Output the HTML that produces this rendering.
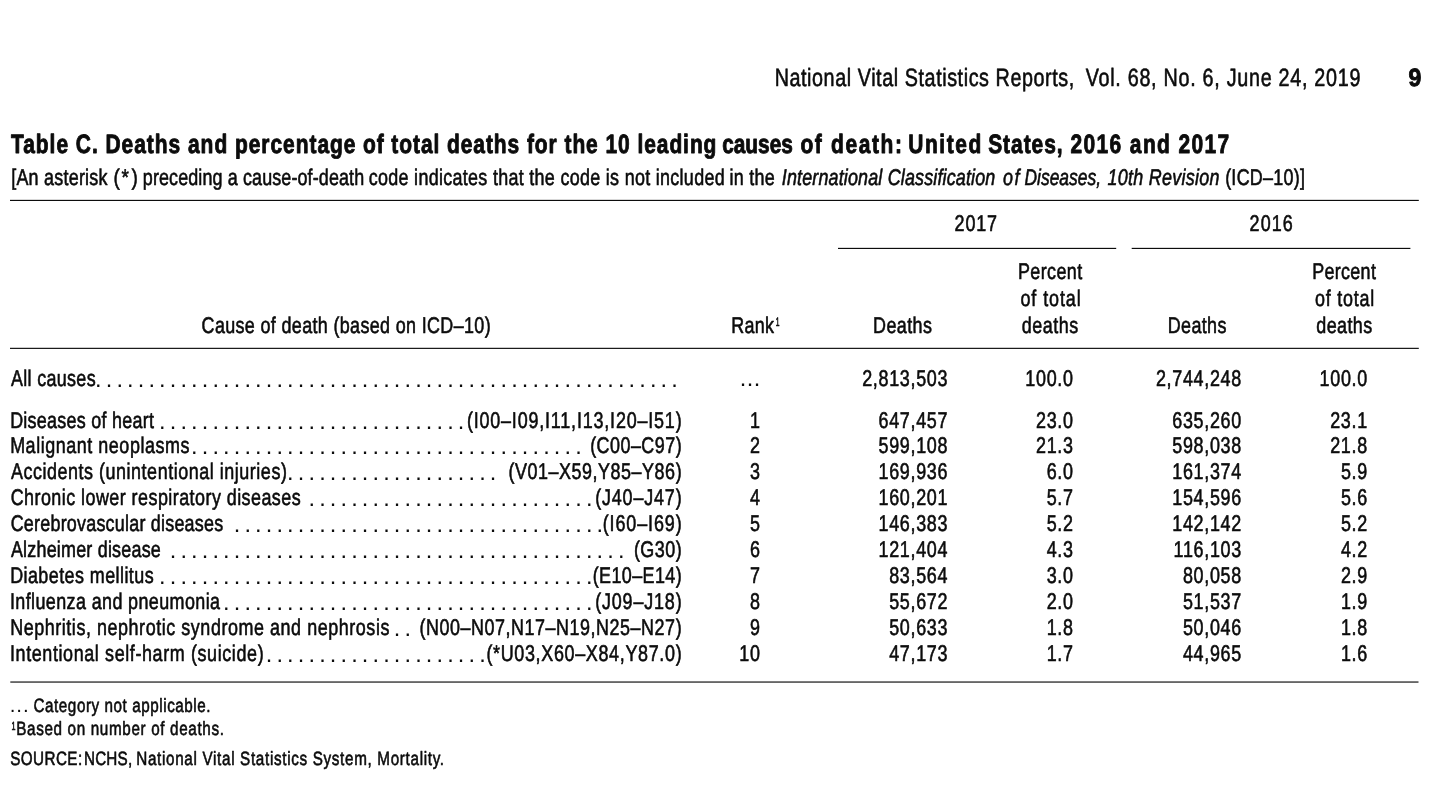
<!DOCTYPE html>
<html lang="en"><head><meta charset="utf-8"><title>Table C. Deaths and percentage of total deaths for the 10 leading causes of death</title>
<style>
html,body{margin:0;padding:0;background:#ffffff;}
body{width:1440px;height:791px;overflow:hidden;}
svg{display:block;font-family:"Liberation Sans",sans-serif;font-size:22.7px;fill:#0b0b0b;text-rendering:geometricPrecision;stroke:#0b0b0b;stroke-width:0.6px;paint-order:stroke;stroke-linejoin:round;}
svg text{white-space:pre;}
.b{font-weight:bold;stroke-width:0.9px;}
.i{font-style:italic;}
.d{stroke:none;}
.rules{stroke:none;}
</style></head><body>
<svg width="1440" height="791" viewBox="0 0 1440 791">

<g class="rules"><rect x="10.00" y="199.84" width="1408.80" height="1.15"/><rect x="838.00" y="247.84" width="278.20" height="1.15"/><rect x="1131.70" y="247.84" width="278.70" height="1.15"/><rect x="10.00" y="347.78" width="1408.80" height="1.15"/><rect x="10.30" y="681.47" width="1408.20" height="1.15"/></g>
<g class="txt">
<text transform="translate(774.63,86.00) scale(0.7900,1)" textLength="379.30" lengthAdjust="spacing" font-size="25.0">National Vital Statistics Reports,</text>
<text transform="translate(1085.71,86.00) scale(0.7900,1)" textLength="347.75" lengthAdjust="spacing" font-size="25.0">Vol. 68, No. 6, June 24, 2019</text>
<text x="1408.50" y="86.00" textLength="12.86" lengthAdjust="spacingAndGlyphs" font-size="25.0" class="b">9</text>
<text transform="translate(11.01,153.00) scale(0.7900,1)" textLength="436.01" lengthAdjust="spacing" font-size="26.5" class="b">Table C. Deaths and percentage</text>
<text transform="translate(362.93,153.00) scale(0.7900,1)" textLength="447.43" lengthAdjust="spacing" font-size="26.5" class="b">of total deaths for the 10 leading</text>
<text x="722.19" y="153.00" textLength="70.67" lengthAdjust="spacingAndGlyphs" font-size="26.5" class="b">causes</text>
<text transform="translate(800.43,153.00) scale(0.7900,1)" textLength="128.58" lengthAdjust="spacing" font-size="26.5" class="b">of death:</text>
<text transform="translate(908.24,153.00) scale(0.7900,1)" textLength="92.58" lengthAdjust="spacing" font-size="26.5" class="b">United</text>
<text transform="translate(988.15,153.00) scale(0.7900,1)" textLength="94.31" lengthAdjust="spacing" font-size="26.5" class="b">States,</text>
<text transform="translate(1070.52,153.00) scale(0.7900,1)" textLength="200.82" lengthAdjust="spacing" font-size="26.5" class="b">2016 and 2017</text>
<text transform="translate(11.22,185.00) scale(0.7900,1)" textLength="121.84" lengthAdjust="spacing">[An asterisk</text>
<text x="113.42" y="185.00" textLength="6.35" lengthAdjust="spacingAndGlyphs">(</text>
<text x="121.59" y="185.00" textLength="7.43" lengthAdjust="spacingAndGlyphs">*</text>
<text x="131.49" y="185.00" textLength="6.35" lengthAdjust="spacingAndGlyphs">)</text>
<text transform="translate(142.84,185.00) scale(0.7900,1)" textLength="280.15" lengthAdjust="spacing">preceding a cause-of-death</text>
<text transform="translate(368.74,185.00) scale(0.7900,1)" textLength="450.53" lengthAdjust="spacing">code indicates that the code is not included</text>
<text transform="translate(729.40,185.00) scale(0.7900,1)" textLength="57.46" lengthAdjust="spacing">in the</text>
<text transform="translate(781.79,185.00) scale(0.7900,1)" textLength="270.28" lengthAdjust="spacing" class="i">International Classification</text>
<text transform="translate(1002.91,185.00) scale(0.7900,1)" textLength="20.93" lengthAdjust="spacing" class="i">of</text>
<text x="1024.46" y="185.00" textLength="76.56" lengthAdjust="spacingAndGlyphs" class="i">Diseases,</text>
<text transform="translate(1107.54,185.00) scale(0.7900,1)" textLength="141.81" lengthAdjust="spacing" class="i">10th Revision</text>
<text transform="translate(1225.14,185.00) scale(0.7900,1)" textLength="101.13" lengthAdjust="spacing">(ICD–10)]</text>
<text transform="translate(954.60,231.00) scale(0.7900,1)" textLength="53.55" lengthAdjust="spacing">2017</text>
<text transform="translate(1249.60,231.00) scale(0.7900,1)" textLength="54.67" lengthAdjust="spacing">2016</text>
<text transform="translate(201.59,332.50) scale(0.7900,1)" textLength="365.85" lengthAdjust="spacing">Cause of death (based on ICD–10)</text>
<text transform="translate(731.33,332.50) scale(0.7900,1)" textLength="53.98" lengthAdjust="spacing">Rank</text>
<text x="775.69" y="325.60" textLength="3.74" lengthAdjust="spacingAndGlyphs" font-size="12.2">1</text>
<text transform="translate(873.03,332.50) scale(0.7900,1)" textLength="74.52" lengthAdjust="spacing">Deaths</text>
<text transform="translate(1018.03,279.00) scale(0.7900,1)" textLength="81.14" lengthAdjust="spacing">Percent</text>
<text transform="translate(1020.50,306.00) scale(0.7900,1)" textLength="76.21" lengthAdjust="spacing">of total</text>
<text transform="translate(1021.75,332.50) scale(0.7900,1)" textLength="71.39" lengthAdjust="spacing">deaths</text>
<text transform="translate(1167.78,332.50) scale(0.7900,1)" textLength="74.20" lengthAdjust="spacing">Deaths</text>
<text transform="translate(1312.28,279.00) scale(0.7900,1)" textLength="80.51" lengthAdjust="spacing">Percent</text>
<text transform="translate(1315.00,306.00) scale(0.7900,1)" textLength="74.94" lengthAdjust="spacing">of total</text>
<text transform="translate(1316.25,332.50) scale(0.7900,1)" textLength="70.76" lengthAdjust="spacing">deaths</text>
<text transform="translate(10.96,386.00) scale(0.7900,1)" textLength="107.19" lengthAdjust="spacing">All causes</text>
<text transform="translate(862.16,386.00) scale(0.7900,1)" textLength="107.97" lengthAdjust="spacing">2,813,503</text>
<text transform="translate(1025.37,386.00) scale(0.7900,1)" textLength="60.30" lengthAdjust="spacing">100.0</text>
<text transform="translate(1155.91,386.00) scale(0.7900,1)" textLength="107.97" lengthAdjust="spacing">2,744,248</text>
<text transform="translate(1319.57,386.00) scale(0.7900,1)" textLength="60.30" lengthAdjust="spacing">100.0</text>
<text transform="translate(10.13,428.00) scale(0.7900,1)" textLength="181.97" lengthAdjust="spacing">Diseases of heart</text>
<text transform="translate(466.89,428.00) scale(0.7900,1)" textLength="271.80" lengthAdjust="spacing">(I00–I09,I11,I13,I20–I51)</text>
<text transform="translate(750.03,428.00) scale(0.7900,1)" textLength="12.62" lengthAdjust="spacing">1</text>
<text transform="translate(878.49,428.00) scale(0.7900,1)" textLength="87.29" lengthAdjust="spacing">647,457</text>
<text transform="translate(1036.02,428.00) scale(0.7900,1)" textLength="46.81" lengthAdjust="spacing">23.0</text>
<text transform="translate(1172.24,428.00) scale(0.7900,1)" textLength="87.29" lengthAdjust="spacing">635,260</text>
<text transform="translate(1330.22,428.00) scale(0.7900,1)" textLength="46.81" lengthAdjust="spacing">23.1</text>
<text transform="translate(10.13,453.00) scale(0.7900,1)" textLength="226.92" lengthAdjust="spacing">Malignant neoplasms</text>
<text transform="translate(590.14,453.00) scale(0.7900,1)" textLength="115.79" lengthAdjust="spacing">(C00–C97)</text>
<text transform="translate(750.03,453.00) scale(0.7900,1)" textLength="12.62" lengthAdjust="spacing">2</text>
<text transform="translate(878.49,453.00) scale(0.7900,1)" textLength="87.29" lengthAdjust="spacing">599,108</text>
<text transform="translate(1036.02,453.00) scale(0.7900,1)" textLength="46.81" lengthAdjust="spacing">21.3</text>
<text transform="translate(1172.24,453.00) scale(0.7900,1)" textLength="87.29" lengthAdjust="spacing">598,038</text>
<text transform="translate(1330.22,453.00) scale(0.7900,1)" textLength="46.81" lengthAdjust="spacing">21.8</text>
<text transform="translate(10.96,479.00) scale(0.7900,1)" textLength="349.24" lengthAdjust="spacing">Accidents (unintentional injuries)</text>
<text transform="translate(508.39,479.00) scale(0.7900,1)" textLength="219.27" lengthAdjust="spacing">(V01–X59,Y85–Y86)</text>
<text transform="translate(750.03,479.00) scale(0.7900,1)" textLength="12.62" lengthAdjust="spacing">3</text>
<text transform="translate(878.49,479.00) scale(0.7900,1)" textLength="87.29" lengthAdjust="spacing">169,936</text>
<text transform="translate(1046.69,479.00) scale(0.7900,1)" textLength="33.30" lengthAdjust="spacing">6.0</text>
<text transform="translate(1172.24,479.00) scale(0.7900,1)" textLength="87.29" lengthAdjust="spacing">161,374</text>
<text transform="translate(1340.89,479.00) scale(0.7900,1)" textLength="33.30" lengthAdjust="spacing">5.9</text>
<text transform="translate(10.69,505.00) scale(0.7900,1)" textLength="367.04" lengthAdjust="spacing">Chronic lower respiratory diseases</text>
<text transform="translate(595.14,505.00) scale(0.7900,1)" textLength="109.46" lengthAdjust="spacing">(J40–J47)</text>
<text transform="translate(750.03,505.00) scale(0.7900,1)" textLength="12.62" lengthAdjust="spacing">4</text>
<text transform="translate(878.49,505.00) scale(0.7900,1)" textLength="87.29" lengthAdjust="spacing">160,201</text>
<text transform="translate(1046.69,505.00) scale(0.7900,1)" textLength="33.30" lengthAdjust="spacing">5.7</text>
<text transform="translate(1172.24,505.00) scale(0.7900,1)" textLength="87.29" lengthAdjust="spacing">154,596</text>
<text transform="translate(1340.89,505.00) scale(0.7900,1)" textLength="33.30" lengthAdjust="spacing">5.6</text>
<text transform="translate(10.69,531.00) scale(0.7900,1)" textLength="268.93" lengthAdjust="spacing">Cerebrovascular diseases</text>
<text transform="translate(602.64,531.00) scale(0.7900,1)" textLength="99.97" lengthAdjust="spacing">(I60–I69)</text>
<text transform="translate(750.03,531.00) scale(0.7900,1)" textLength="12.62" lengthAdjust="spacing">5</text>
<text transform="translate(878.49,531.00) scale(0.7900,1)" textLength="87.29" lengthAdjust="spacing">146,383</text>
<text transform="translate(1046.69,531.00) scale(0.7900,1)" textLength="33.30" lengthAdjust="spacing">5.2</text>
<text transform="translate(1172.24,531.00) scale(0.7900,1)" textLength="87.29" lengthAdjust="spacing">142,142</text>
<text transform="translate(1340.89,531.00) scale(0.7900,1)" textLength="33.30" lengthAdjust="spacing">5.2</text>
<text transform="translate(10.96,557.00) scale(0.7900,1)" textLength="189.66" lengthAdjust="spacing">Alzheimer disease</text>
<text transform="translate(633.89,557.00) scale(0.7900,1)" textLength="60.41" lengthAdjust="spacing">(G30)</text>
<text transform="translate(750.03,557.00) scale(0.7900,1)" textLength="12.62" lengthAdjust="spacing">6</text>
<text transform="translate(878.49,557.00) scale(0.7900,1)" textLength="87.29" lengthAdjust="spacing">121,404</text>
<text transform="translate(1046.69,557.00) scale(0.7900,1)" textLength="33.30" lengthAdjust="spacing">4.3</text>
<text transform="translate(1173.58,557.00) scale(0.7900,1)" textLength="85.60" lengthAdjust="spacing">116,103</text>
<text transform="translate(1340.89,557.00) scale(0.7900,1)" textLength="33.30" lengthAdjust="spacing">4.2</text>
<text transform="translate(10.13,583.00) scale(0.7900,1)" textLength="181.67" lengthAdjust="spacing">Diabetes mellitus</text>
<text transform="translate(592.64,583.00) scale(0.7900,1)" textLength="112.63" lengthAdjust="spacing">(E10–E14)</text>
<text transform="translate(750.03,583.00) scale(0.7900,1)" textLength="12.62" lengthAdjust="spacing">7</text>
<text transform="translate(889.15,583.00) scale(0.7900,1)" textLength="73.80" lengthAdjust="spacing">83,564</text>
<text transform="translate(1046.69,583.00) scale(0.7900,1)" textLength="33.30" lengthAdjust="spacing">3.0</text>
<text transform="translate(1182.90,583.00) scale(0.7900,1)" textLength="73.80" lengthAdjust="spacing">80,058</text>
<text transform="translate(1340.89,583.00) scale(0.7900,1)" textLength="33.30" lengthAdjust="spacing">2.9</text>
<text transform="translate(9.95,609.00) scale(0.7900,1)" textLength="265.89" lengthAdjust="spacing">Influenza and pneumonia</text>
<text transform="translate(595.14,609.00) scale(0.7900,1)" textLength="109.46" lengthAdjust="spacing">(J09–J18)</text>
<text transform="translate(750.03,609.00) scale(0.7900,1)" textLength="12.62" lengthAdjust="spacing">8</text>
<text transform="translate(889.15,609.00) scale(0.7900,1)" textLength="73.80" lengthAdjust="spacing">55,672</text>
<text transform="translate(1046.69,609.00) scale(0.7900,1)" textLength="33.30" lengthAdjust="spacing">2.0</text>
<text transform="translate(1182.90,609.00) scale(0.7900,1)" textLength="73.80" lengthAdjust="spacing">51,537</text>
<text transform="translate(1340.89,609.00) scale(0.7900,1)" textLength="33.30" lengthAdjust="spacing">1.9</text>
<text transform="translate(10.13,635.00) scale(0.7900,1)" textLength="480.09" lengthAdjust="spacing">Nephritis, nephrotic syndrome and nephrosis</text>
<text transform="translate(419.39,635.00) scale(0.7900,1)" textLength="331.93" lengthAdjust="spacing">(N00–N07,N17–N19,N25–N27)</text>
<text transform="translate(750.03,635.00) scale(0.7900,1)" textLength="12.62" lengthAdjust="spacing">9</text>
<text transform="translate(889.15,635.00) scale(0.7900,1)" textLength="73.80" lengthAdjust="spacing">50,633</text>
<text transform="translate(1046.69,635.00) scale(0.7900,1)" textLength="33.30" lengthAdjust="spacing">1.8</text>
<text transform="translate(1182.90,635.00) scale(0.7900,1)" textLength="73.80" lengthAdjust="spacing">50,046</text>
<text transform="translate(1340.89,635.00) scale(0.7900,1)" textLength="33.30" lengthAdjust="spacing">1.8</text>
<text transform="translate(9.95,661.00) scale(0.7900,1)" textLength="321.10" lengthAdjust="spacing">Intentional self-harm (suicide)</text>
<text transform="translate(486.39,661.00) scale(0.7900,1)" textLength="247.12" lengthAdjust="spacing">(*U03,X60–X84,Y87.0)</text>
<text transform="translate(739.36,661.00) scale(0.7900,1)" textLength="26.13" lengthAdjust="spacing">10</text>
<text transform="translate(889.15,661.00) scale(0.7900,1)" textLength="73.80" lengthAdjust="spacing">47,173</text>
<text transform="translate(1046.69,661.00) scale(0.7900,1)" textLength="33.30" lengthAdjust="spacing">1.7</text>
<text transform="translate(1182.90,661.00) scale(0.7900,1)" textLength="73.80" lengthAdjust="spacing">44,965</text>
<text transform="translate(1340.89,661.00) scale(0.7900,1)" textLength="33.30" lengthAdjust="spacing">1.6</text>
<text transform="translate(33.43,711.80) scale(0.7900,1)" textLength="224.26" lengthAdjust="spacing" font-size="19.3">Category not applicable.</text>
<text x="11.45" y="730.30" textLength="4.00" lengthAdjust="spacingAndGlyphs" font-size="11.8">1</text>
<text transform="translate(16.25,735.30) scale(0.7900,1)" textLength="262.84" lengthAdjust="spacing" font-size="19.3">Based on number of deaths.</text>
<text transform="translate(10.21,764.60) scale(0.7900,1)" textLength="91.12" lengthAdjust="spacing" font-size="19.3">SOURCE:</text>
<text transform="translate(83.95,764.60) scale(0.7900,1)" textLength="61.04" lengthAdjust="spacing" font-size="19.3">NCHS,</text>
<text transform="translate(136.25,764.60) scale(0.7900,1)" textLength="389.67" lengthAdjust="spacing" font-size="19.3">National Vital Statistics System, Mortality.</text>
<text class="d" y="386.55" font-size="23.5" x="95.06 105.73 116.40 127.07 137.74 148.41 159.08 169.75 180.42 191.09 201.76 212.43 223.10 233.77 244.44 255.11 265.78 276.45 287.12 297.79 308.46 319.13 329.80 340.47 351.14 361.81 372.48 383.15 393.82 404.49 415.16 425.83 436.50 447.17 457.84 468.51 479.18 489.85 500.52 511.19 521.86 532.53 543.20 553.87 564.54 575.21 585.88 596.55 607.22 617.89 628.56 639.23 649.90 660.57 671.24">.......................................................</text>
<text class="d" y="428.55" font-size="23.5" x="159.08 169.75 180.42 191.09 201.76 212.43 223.10 233.77 244.44 255.11 265.78 276.45 287.12 297.79 308.46 319.13 329.80 340.47 351.14 361.81 372.48 383.15 393.82 404.49 415.16 425.83 436.50 447.17 457.84">.............................</text>
<text class="d" y="453.55" font-size="23.5" x="191.09 201.76 212.43 223.10 233.77 244.44 255.11 265.78 276.45 287.12 297.79 308.46 319.13 329.80 340.47 351.14 361.81 372.48 383.15 393.82 404.49 415.16 425.83 436.50 447.17 457.84 468.51 479.18 489.85 500.52 511.19 521.86 532.53 543.20 553.87 564.54 575.21">.....................................</text>
<text class="d" y="479.55" font-size="23.5" x="287.12 297.79 308.46 319.13 329.80 340.47 351.14 361.81 372.48 383.15 393.82 404.49 415.16 425.83 436.50 447.17 457.84 468.51 479.18 489.85">....................</text>
<text class="d" y="505.55" font-size="23.5" x="308.46 319.13 329.80 340.47 351.14 361.81 372.48 383.15 393.82 404.49 415.16 425.83 436.50 447.17 457.84 468.51 479.18 489.85 500.52 511.19 521.86 532.53 543.20 553.87 564.54 575.21 585.88">...........................</text>
<text class="d" y="531.55" font-size="23.5" x="233.77 244.44 255.11 265.78 276.45 287.12 297.79 308.46 319.13 329.80 340.47 351.14 361.81 372.48 383.15 393.82 404.49 415.16 425.83 436.50 447.17 457.84 468.51 479.18 489.85 500.52 511.19 521.86 532.53 543.20 553.87 564.54 575.21 585.88 596.55">...................................</text>
<text class="d" y="557.55" font-size="23.5" x="169.75 180.42 191.09 201.76 212.43 223.10 233.77 244.44 255.11 265.78 276.45 287.12 297.79 308.46 319.13 329.80 340.47 351.14 361.81 372.48 383.15 393.82 404.49 415.16 425.83 436.50 447.17 457.84 468.51 479.18 489.85 500.52 511.19 521.86 532.53 543.20 553.87 564.54 575.21 585.88 596.55 607.22 617.89">...........................................</text>
<text class="d" y="583.55" font-size="23.5" x="159.08 169.75 180.42 191.09 201.76 212.43 223.10 233.77 244.44 255.11 265.78 276.45 287.12 297.79 308.46 319.13 329.80 340.47 351.14 361.81 372.48 383.15 393.82 404.49 415.16 425.83 436.50 447.17 457.84 468.51 479.18 489.85 500.52 511.19 521.86 532.53 543.20 553.87 564.54 575.21 585.88">.........................................</text>
<text class="d" y="609.55" font-size="23.5" x="223.10 233.77 244.44 255.11 265.78 276.45 287.12 297.79 308.46 319.13 329.80 340.47 351.14 361.81 372.48 383.15 393.82 404.49 415.16 425.83 436.50 447.17 457.84 468.51 479.18 489.85 500.52 511.19 521.86 532.53 543.20 553.87 564.54 575.21 585.88">...................................</text>
<text class="d" y="635.55" font-size="23.5" x="393.82 404.49">..</text>
<text class="d" y="661.55" font-size="23.5" x="265.78 276.45 287.12 297.79 308.46 319.13 329.80 340.47 351.14 361.81 372.48 383.15 393.82 404.49 415.16 425.83 436.50 447.17 457.84 468.51 479.18">.....................</text>
<text class="d" y="386.40" font-size="23.5" x="739.64 746.74 753.84">...</text>
<text class="d" y="712.30" font-size="20.5" x="9.75 16.35 22.95">...</text>
</g>
</svg>
</body></html>
